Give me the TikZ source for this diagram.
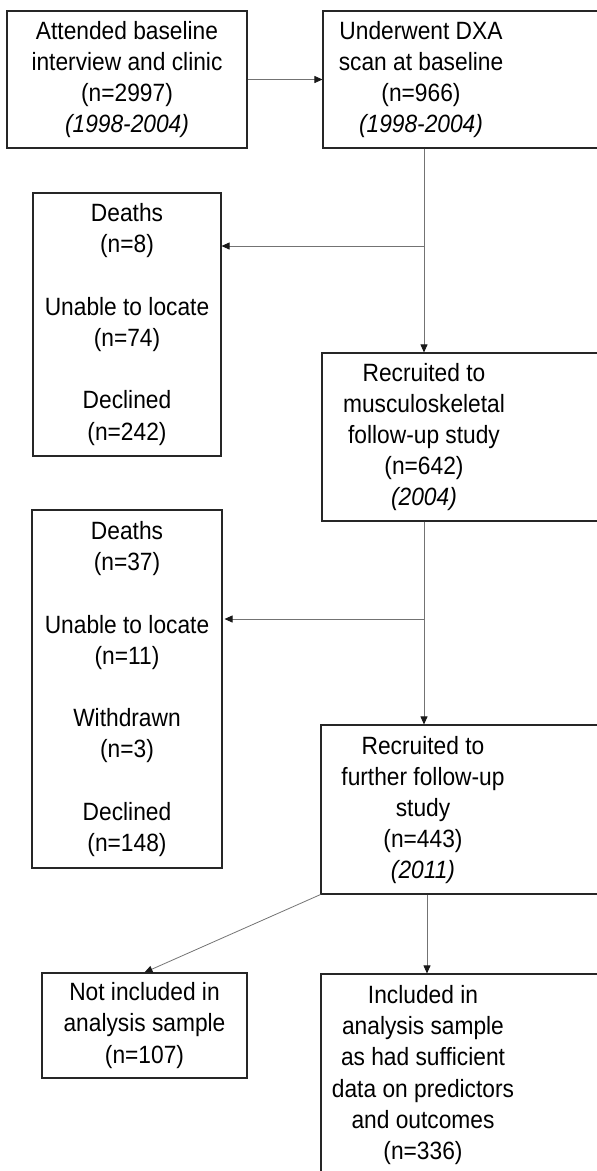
\documentclass[tikz,border=0pt]{standalone}
\usepackage{fontspec}
\setmainfont{Liberation Sans}[FakeStretch=0.91]
\usetikzlibrary{arrows.meta}
\begin{document}
\begin{tikzpicture}[x=1pt,y=-1pt,
  box/.style={draw=black!85, line width=1.1pt, inner sep=0pt, align=center,
    font=\fontsize{25}{31.2}\selectfont},
  txt/.style={inner sep=0pt, align=center, font=\fontsize{25}{31.2}\selectfont},
  arr/.style={draw=black!55, line width=0.8pt,
    -{Triangle[length=8pt,width=7pt,color=black!90]}},
  ln/.style={draw=black!55, line width=0.8pt}]
\useasboundingbox (0,0) rectangle (597,1171);
% left column boxes
\node[box, minimum width=240pt, minimum height=137pt] (bA) at (127,79.5)
  {Attended baseline\\interview and clinic\\(n=2997)\\\textit{(1998-2004)}};
\node[box, minimum width=188pt, minimum height=263pt] (bC) at (127,324.5)
  {Deaths\\(n=8)\\~\\Unable to locate\\(n=74)\\~\\Declined\\(n=242)};
\node[box, minimum width=190pt, minimum height=358pt] (bE) at (127,689)
  {Deaths\\(n=37)\\~\\Unable to locate\\(n=11)\\~\\Withdrawn\\(n=3)\\~\\Declined\\(n=148)};
\node[box, minimum width=205pt, minimum height=105pt] (bG) at (144.5,1025.5)
  {Not included in\\analysis sample\\(n=107)};
% right column boxes (cut by the right edge)
\node[box, minimum width=287pt, minimum height=137pt] (bB) at (466.5,79.5) {};
\node[box, minimum width=288pt, minimum height=168pt] (bD) at (466,437) {};
\node[box, minimum width=289pt, minimum height=169pt] (bF) at (465.5,809.5) {};
\node[box, minimum width=289pt, minimum height=206pt] (bH) at (465.5,1077) {};
\node[txt] (tB) at (421,79.5)
  {Underwent DXA\\scan at baseline\\(n=966)\\\textit{(1998-2004)}};
\node[txt] (tD) at (424,437)
  {Recruited to\\musculoskeletal\\follow-up study\\(n=642)\\\textit{(2004)}};
\node[txt] (tF) at (423,810)
  {Recruited to\\further follow-up\\study\\(n=443)\\\textit{(2011)}};
\node[txt] (tH) at (423,1075)
  {Included in\\analysis sample\\as had sufficient\\data on predictors\\and outcomes\\(n=336)};
% connectors
\coordinate (x1) at (424,0);
\coordinate (x2) at (427,0);
\coordinate (j1) at (424,246);
\coordinate (j2) at (424,619);
\draw[arr] (bA.east) -- (bB.west |- bA.east);
\draw[arr] (bB.south -| x1) -- (bD.north -| x1);
\draw[arr] (j1) -- (bC.east |- j1);
\draw[arr] (bD.south -| x1) -- (bF.north -| x1);
\draw[arr] (j2) -- ([xshift=2pt]bE.east |- j2);
\draw[arr] (bF.south west) -- (bG.north);
\draw[arr] (bF.south -| x2) -- (bH.north -| x2);
\end{tikzpicture}
\end{document}
